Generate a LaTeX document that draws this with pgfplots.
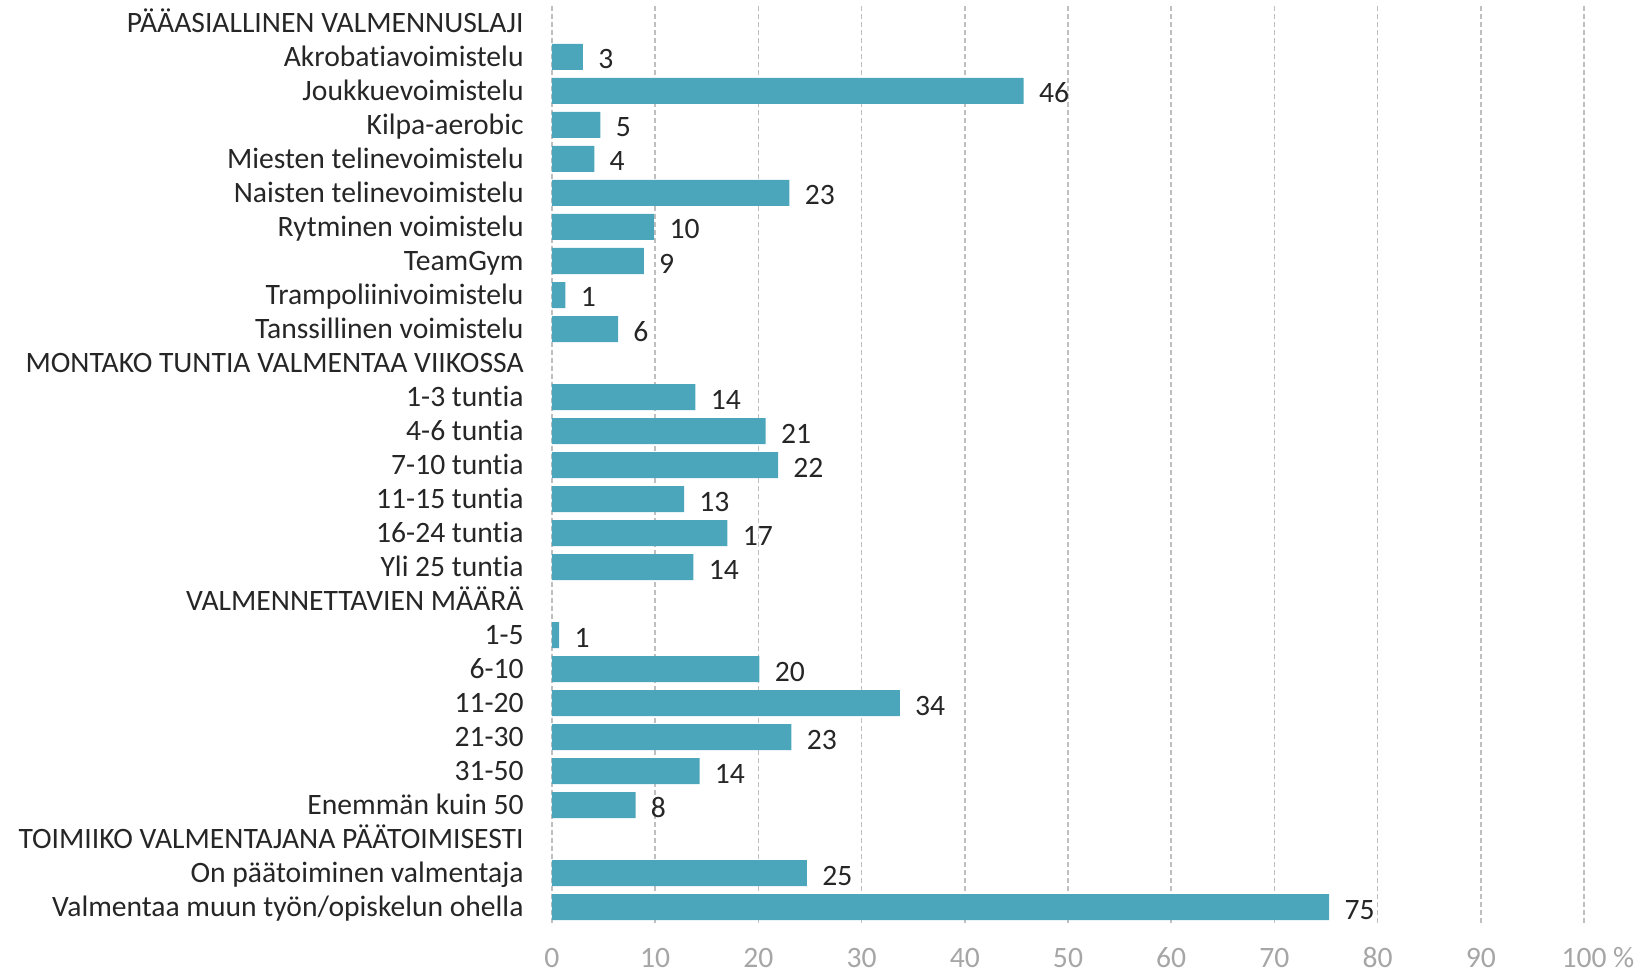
\documentclass[border=0pt]{standalone}
\usepackage{fontspec}
\setmainfont{Carlito}[Ligatures={NoCommon}]
\usepackage{pgfplots}
\pgfplotsset{compat=1.18}
\usepackage{pgfplotstable}
\definecolor{barc}{HTML}{4BA6BC}
\definecolor{txt}{HTML}{262626}
\definecolor{gridc}{HTML}{BFBFBF}
\definecolor{tickc}{HTML}{A6A6A6}

\pgfplotstableread{
y x lab
1 3.0 3
2 45.7 46
3 4.7 5
4 4.1 4
5 23.0 23
6 9.9 10
7 8.9 9
8 1.3 1
9 6.4 6
11 13.9 14
12 20.7 21
13 21.9 22
14 12.8 13
15 17.0 17
16 13.7 14
18 0.7 1
19 20.1 20
20 33.7 34
21 23.2 23
22 14.3 14
23 8.1 8
25 24.7 25
26 75.3 75
}\datatable

\begin{document}
\begin{tikzpicture}
\begin{axis}[name=ax, scale only axis, width=516pt, height=459pt,
  xmin=0, xmax=100, ymin=-0.5, ymax=26.5, y dir=reverse,
  xbar, bar width=13pt, bar shift=0pt,
  axis line style={draw=none}, major tick length=0pt,
  xtick={0,10,...,100},
  xticklabels={0,10,20,30,40,50,60,70,80,90,100\rlap{~\%}},
  xmajorgrids, grid style={gridc, line width=0.75pt, dash pattern=on 2.5pt off 1.5pt},
  ytick={0,...,26},
  yticklabels={PÄÄASIALLINEN VALMENNUSLAJI, Akrobatiavoimistelu, Joukkuevoimistelu, Kilpa-aerobic, Miesten telinevoimistelu, Naisten telinevoimistelu, Rytminen voimistelu, TeamGym, Trampoliinivoimistelu, Tanssillinen voimistelu, MONTAKO TUNTIA VALMENTAA VIIKOSSA, 1-3 tuntia, 4-6 tuntia, 7-10 tuntia, 11-15 tuntia, 16-24 tuntia, Yli 25 tuntia, VALMENNETTAVIEN MÄÄRÄ, 1-5, 6-10, 11-20, 21-30, 31-50, Enemmän kuin 50, TOIMIIKO VALMENTAJANA PÄÄTOIMISESTI, On päätoiminen valmentaja, Valmentaa muun työn/opiskelun ohella},
  /pgf/number format/assume math mode=true,
  x tick label style={text=tickc, inner sep=0pt, anchor=base, font=\fontsize{14.8}{17}\selectfont},
  xticklabel shift=21.5pt,
  y tick label style={text=txt, inner sep=0pt, anchor=base east, yshift=-4.9pt, font=\fontsize{14.8}{17}\selectfont},
  yticklabel shift=14pt,
  nodes near coords, point meta=explicit symbolic,
  nodes near coords style={anchor=base west, inner sep=0pt, xshift=7.5pt, yshift=-6pt, text=txt, font=\fontsize{14.8}{17}\selectfont},
]
\addplot[fill=barc, draw=none] table[x=x, y=y, meta=lab]{\datatable};
\end{axis}
\pgfresetboundingbox
\path ([shift={(-276pt,-24.5pt)}]ax.south west) rectangle ([shift={(29pt,3pt)}]ax.north east);
\end{tikzpicture}
\end{document}
